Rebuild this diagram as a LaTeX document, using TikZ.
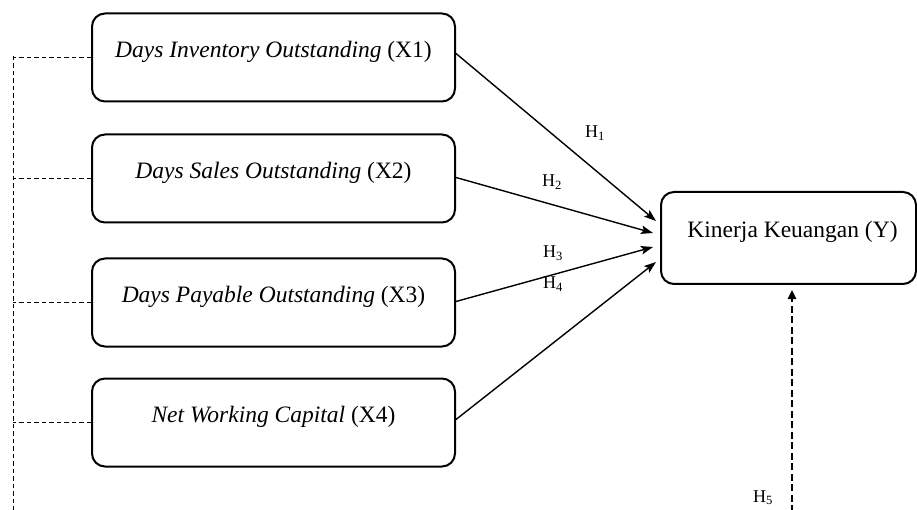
\documentclass[tikz,border=0pt]{standalone}
\usepackage{fontspec}
\setmainfont{Liberation Serif}
\usetikzlibrary{arrows.meta,calc}
\begin{document}
\begin{tikzpicture}[x=1pt,y=-1pt,
  box/.style={draw, line width=2pt, rounded corners=13pt, inner sep=0pt,
    text height=44pt, text depth=44pt, minimum width=363pt,
    font=\fontsize{23.5}{28}\selectfont},
  ybox/.style={box, text height=46pt, text depth=46pt, minimum width=255pt},
  arr/.style={line width=1.4pt, -{Stealth[length=12pt,width=8.5pt,inset=2.5pt]}},
  rail/.style={line width=1pt, dash pattern=on 4.5pt off 3pt},
  darr/.style={line width=1.5pt, dash pattern=on 7pt off 3.5pt, -{Triangle[length=9pt,width=8.5pt]}},
  hlab/.style={anchor=base west, inner sep=0pt, font=\fontsize{18}{20}\selectfont}
]
\useasboundingbox (0,0) rectangle (917,510);

\node[box] (x1) at (273.5,57.5) {\textit{Days Inventory Outstanding} (X1)};
\node[box] (x2) at (273.5,178.5) {\textit{Days Sales Outstanding} (X2)};
\node[box] (x3) at (273.5,302.5) {\textit{Days Payable Outstanding} (X3)};
\node[box] (x4) at (273.5,422.5) {\textit{Net Working Capital} (X4)};
\node[ybox] (y) at (788.5,238) {\hspace{8pt}Kinerja Keuangan (Y)};

% left dashed rail
\coordinate (railtop) at (13,56);
\coordinate (railbot) at (13,512);
\draw[rail] (railtop) -- (railbot);
\draw[rail] (x1.west) -- (x1.west -| railtop);
\draw[rail] (x2.west) -- (x2.west -| railtop);
\draw[rail] (x3.west) -- (x3.west -| railtop);
\draw[rail] (x4.west) -- (x4.west -| railtop);

% arrows
\draw[arr] ($(x1.east)+(0,-4)$) -- ($(y.west)+(-4,-17)$);
\draw[arr] ($(x2.east)+(0,-1)$) -- ($(y.west)+(-7,-5)$);
\draw[arr] ($(x3.east)+(0,-1)$) -- ($(y.west)+(-7,9)$);
\draw[arr] ($(x4.east)+(0,-3)$) -- ($(y.west)+(-4,24)$);

% H5 dashed arrow
\coordinate (h5start) at (792,512);
\draw[darr, shorten >=5pt] (h5start) -- (h5start |- y.south);

% labels
\node[hlab] (h1) at (585,138) {H\textsubscript{1}};
\node[hlab] (h2) at (542,187) {H\textsubscript{2}};
\node[hlab] (h3) at (543,258) {H\textsubscript{3}};
\node[hlab] (h4) at (543,289) {H\textsubscript{4}};
\node[hlab] (h5) at (753,502) {H\textsubscript{5}};
\end{tikzpicture}
\end{document}
